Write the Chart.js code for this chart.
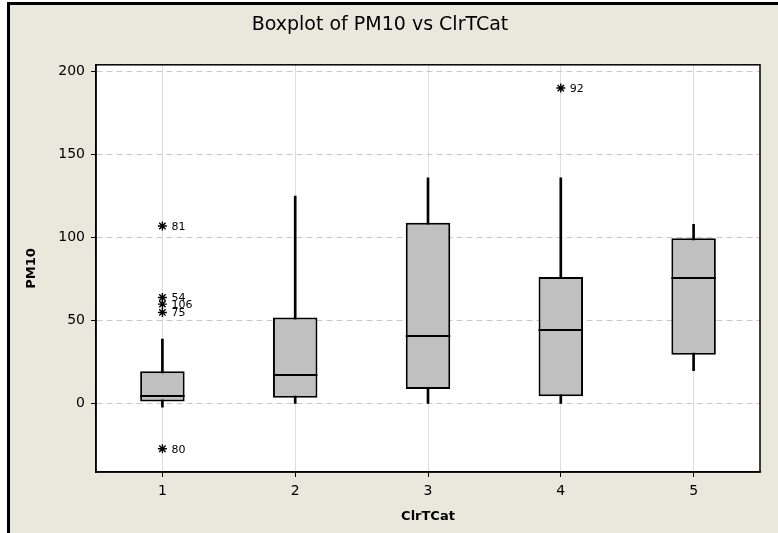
<!DOCTYPE html>
<html>
<head>
<meta charset="utf-8">
<script src="https://cdn.jsdelivr.net/npm/chart.js@4/dist/chart.umd.min.js"></script>
<style>
  body { margin: 0; background: #fff; }
  #frame { position: absolute; left: 7px; top: 2px; width: 771px; height: 531px;
           border-left: 3px solid #000; border-top: 3px solid #000; background: #e8e8dc; box-sizing: border-box; }
  #boxChart { position: absolute; left: 0; top: 0; }
</style>
</head>
<body>
<div id="frame"></div>
<canvas id="boxChart" width="778" height="533"></canvas>
<script>
// values
const categories = ['1', '2', '3', '4', '5'];
const whiskerLow = [-2, 0, 0, 0, 20];
const q1 = [1.4, 3.6, 9, 4.6, 29.6];
const median = [4.6, 17.4, 41, 44.4, 76];
const q3 = [19.6, 52, 109, 76.4, 99.6];
const whiskerHigh = [39, 125, 136, 136, 108];

const outlierCat = ['1', '1', '1', '1', '1', '4'];
const outlierVal = [107, 64, 60, 55, -27, 190];
const outlierLabel = ['81', '54', '106', '75', '80', '92'];

const yTicks = [0, 50, 100, 150, 200];

// build the bar ranges from the arrays
const lowerBox = categories.map((c, i) => [q1[i], median[i]]);
const upperBox = categories.map((c, i) => [median[i], q3[i]]);
const whiskers = categories.map((c, i) => [whiskerLow[i], whiskerHigh[i]]);
const outliers = outlierCat.map((c, i) => ({ x: c, y: outlierVal[i] }));

// white plot area + black frame round it
const plotFrame = {
  id: 'plotFrame',
  beforeDraw(chart) {
    const a = chart.chartArea, ctx = chart.ctx;
    ctx.save();
    ctx.fillStyle = '#ffffff';
    ctx.fillRect(a.left, a.top, a.right - a.left, a.bottom - a.top);
    ctx.restore();
  },
  afterDraw(chart) {
    const a = chart.chartArea, ctx = chart.ctx;
    ctx.save();
    ctx.strokeStyle = '#000';
    ctx.lineWidth = 1.5;
    ctx.strokeRect(a.left, a.top, a.right - a.left, a.bottom - a.top);
    ctx.restore();
  }
};

// median line (at the base of the upper half box) and outlier labels
const boxExtras = {
  id: 'boxExtras',
  afterDatasetsDraw(chart) {
    const ctx = chart.ctx;
    ctx.save();
    ctx.strokeStyle = '#000';
    ctx.lineWidth = 2;
    chart.getDatasetMeta(1).data.forEach(bar => {
      const y = Math.round(bar.base);
      ctx.beginPath();
      ctx.moveTo(bar.x - bar.width / 2, y);
      ctx.lineTo(bar.x + bar.width / 2, y);
      ctx.stroke();
    });
    ctx.font = '11px "DejaVu Sans"';
    ctx.fillStyle = '#000';
    ctx.textBaseline = 'middle';
    chart.getDatasetMeta(3).data.forEach((pt, i) => {
      ctx.fillText(outlierLabel[i], pt.x + 9, pt.y + 1);
    });
    ctx.restore();
  }
};

const ctx = document.getElementById('boxChart').getContext('2d');
new Chart(ctx, {
  type: 'bar',
  data: {
    labels: categories,
    datasets: [
      {
        label: 'lower',
        data: lowerBox,
        grouped: false,
        backgroundColor: '#c0c0c0',
        borderColor: '#000',
        borderWidth: { top: 0, bottom: 2, left: 2, right: 2 },
        borderSkipped: false,
        categoryPercentage: 1,
        barPercentage: 0.335,
        order: 2
      },
      {
        label: 'upper',
        data: upperBox,
        grouped: false,
        backgroundColor: '#c0c0c0',
        borderColor: '#000',
        borderWidth: { top: 2, bottom: 0, left: 2, right: 2 },
        borderSkipped: false,
        categoryPercentage: 1,
        barPercentage: 0.335,
        order: 2
      },
      {
        label: 'whisker',
        data: whiskers,
        grouped: false,
        backgroundColor: '#000',
        borderWidth: 0,
        barThickness: 2,
        order: 3
      },
      {
        type: 'line',
        label: 'outliers',
        data: outliers,
        showLine: false,
        pointStyle: 'star',
        pointRadius: 4.5,
        pointBorderColor: '#000',
        pointBorderWidth: 1.4,
        pointBackgroundColor: '#000',
        order: 1
      }
    ]
  },
  options: {
    responsive: false,
    animation: false,
    layout: { padding: { left: 0, right: 18, top: 0, bottom: 0 } },
    plugins: {
      legend: { display: false },
      tooltip: { enabled: false },
      title: {
        display: true,
        text: 'Boxplot of PM10 vs ClrTCat',
        color: '#000',
        font: { family: 'DejaVu Sans', size: 19, weight: 'normal' },
        padding: { top: 14, bottom: 28 }
      }
    },
    scales: {
      x: {
        offset: true,
        grid: { offset: false, color: '#dcdcdc', lineWidth: 1, tickLength: 5, tickColor: '#000' },
        border: { color: '#000', width: 1.5 },
        ticks: { color: '#000', padding: 6, font: { family: 'DejaVu Sans', size: 14 } },
        title: { display: true, text: 'ClrTCat', color: '#000',
                 font: { family: 'DejaVu Sans', size: 13, weight: 'bold' }, padding: { top: 9, bottom: 9 } },
        afterFit(scale) { scale.height = 61; }
      },
      y: {
        min: -41,
        max: 204,
        afterBuildTicks(scale) { scale.ticks = yTicks.map(v => ({ value: v })); },
        grid: { color: '#c8c8c8', lineWidth: 1, tickLength: 5, tickColor: '#000', tickBorderDash: [] },
        border: { color: '#000', width: 1.5, dash: [6, 4] },
        ticks: { color: '#000', padding: 6, font: { family: 'DejaVu Sans', size: 14 } },
        title: { display: true, text: 'PM10', color: '#000',
                 font: { family: 'DejaVu Sans', size: 13, weight: 'bold' }, padding: { top: 24, bottom: 0 } },
        afterFit(scale) { scale.width = 96; }
      }
    }
  },
  plugins: [plotFrame, boxExtras]
});
</script>
</body>
</html>
